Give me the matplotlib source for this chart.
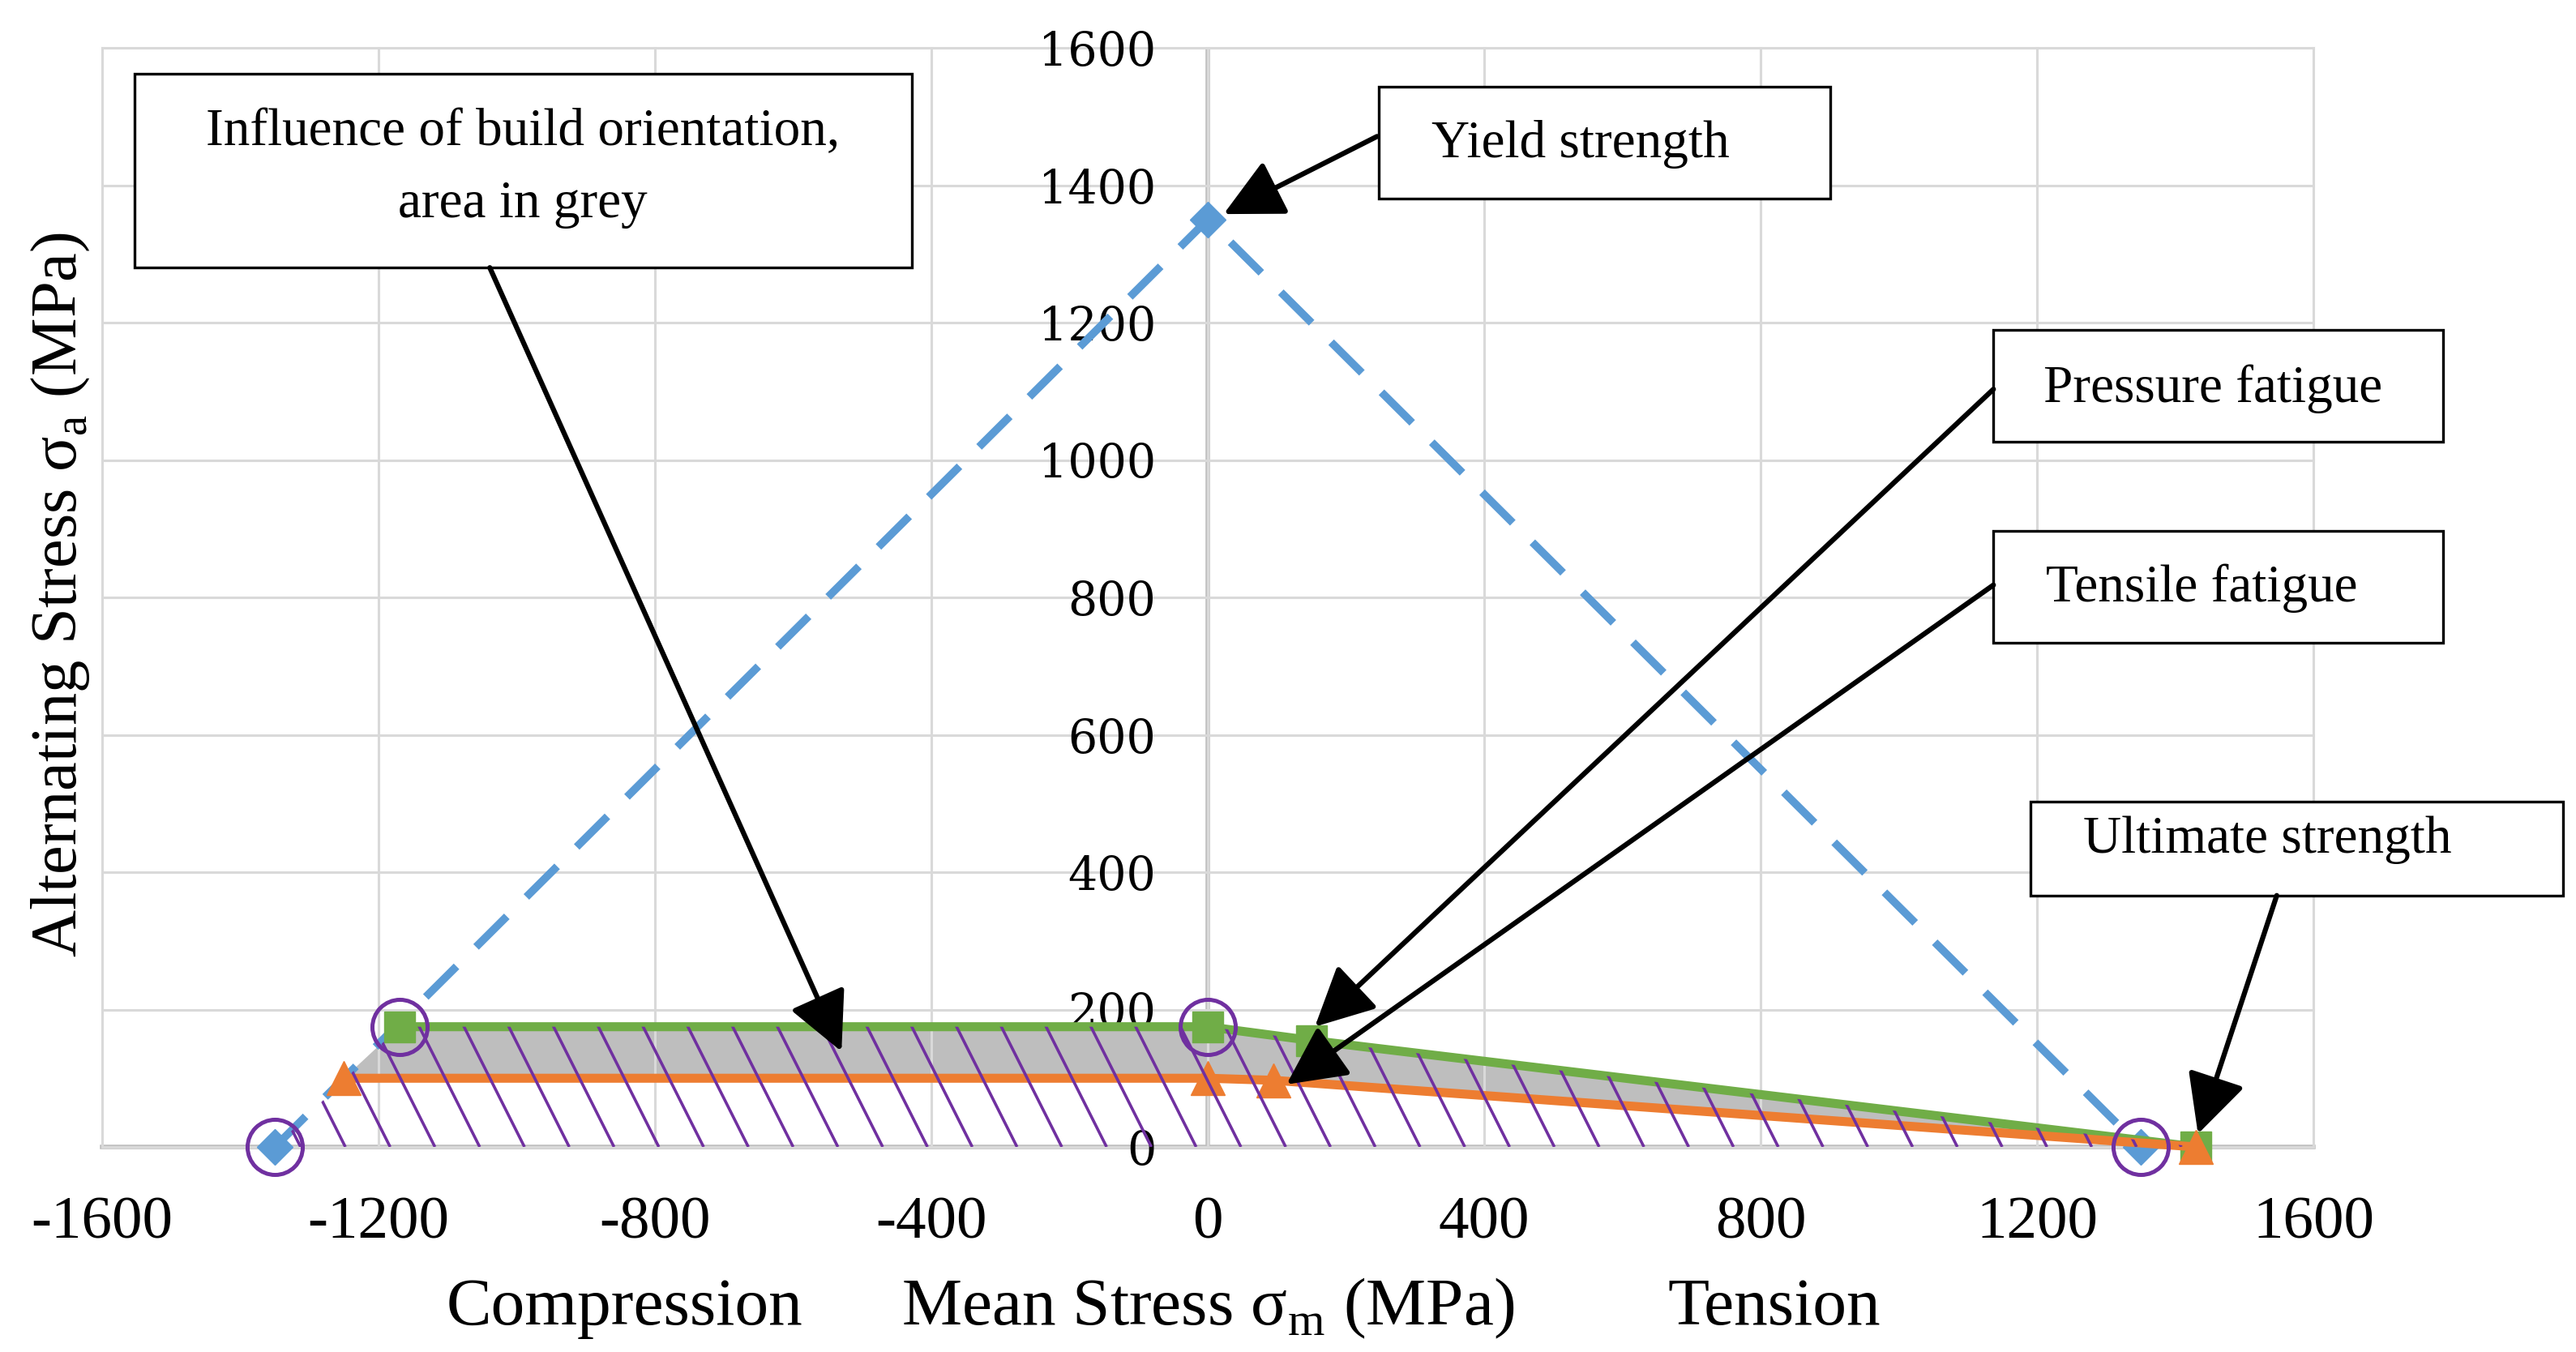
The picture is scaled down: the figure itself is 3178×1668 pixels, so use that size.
import numpy as np
import matplotlib
matplotlib.use('Agg')
import matplotlib.pyplot as plt
from matplotlib.patches import Polygon, Rectangle

# 数据
yield_x = [-1350, 0, 1350]          # 屈服强度线
yield_y = [0, 1350, 0]
pressure_x = [-1170, 0, 150, 1430]  # 压缩疲劳（绿色）
pressure_y = [175, 175, 155, 0]
tensile_x = [-1250, 0, 95, 1430]    # 拉伸疲劳（橙色）
tensile_y = [100, 100, 97, 0]

x_ticks = [-1600, -1200, -800, -400, 0, 400, 800, 1200, 1600]
x_labels = ['-1600', '-1200', '-800', '-400', '0', '400', '800', '1200', '1600']
y_ticks = [0, 200, 400, 600, 800, 1000, 1200, 1400, 1600]
y_labels = ['0', '200', '400', '600', '800', '1000', '1200', '1400', '1600']

serif = ['Liberation Serif', 'DejaVu Serif']
plt.rcParams['font.family'] = serif

W, H = 3178, 1668
fig = plt.figure(figsize=(W / 100, H / 100), dpi=100)
ax = fig.add_axes([126 / W, 1 - 1415 / H, (2854 - 126) / W, (1415 - 59) / H])
ax.set_xlim(-1600, 1600)
ax.set_ylim(0, 1600)

# 坐标轴：y轴放在 x=0 处（先移动，再设置刻度字体）
for s in ax.spines.values():
    s.set_visible(False)
ax.spines['left'].set_position(('data', 0))

ax.set_xticks(x_ticks)
ax.set_xticklabels(x_labels)
ax.set_yticks(y_ticks)
ax.set_yticklabels(y_labels)
ax.tick_params(axis='x', length=0, pad=44, labelsize=54)
ax.tick_params(axis='y', length=0, pad=46, labelsize=41)
for lbl in ax.get_yticklabels():
    lbl.set_family(['DejaVu Serif'])

ax.grid(True, color='#D9D9D9', lw=2.2, zorder=0)
for ln in ax.get_xgridlines() + ax.get_ygridlines():
    ln.set_clip_on(False)
ax.axvline(0, color='#BFBFBF', lw=4, zorder=0.5)
ax.axhline(0, color='#BFBFBF', lw=4, zorder=0.5, clip_on=False)

# 灰色区域（两条疲劳线之间）
grey = list(zip(pressure_x, pressure_y)) + list(zip(tensile_x, tensile_y))[::-1]
ax.add_patch(Polygon(grey, closed=True, facecolor='#BEBEBE', edgecolor='none', zorder=1))

# 斜线阴影区域
hatch_poly = [(yield_x[0], yield_y[0])] + list(zip(pressure_x, pressure_y))
clip = Polygon(hatch_poly, closed=True, facecolor='none', edgecolor='none')
ax.add_patch(clip)
for c in np.arange(-1248 - 64.8 * 3, 1500, 64.8):
    ln, = ax.plot([c, c - 0.5 * 400], [0, 400], color='#7030A0', lw=2.6, zorder=4,
                  solid_capstyle='butt')
    ln.set_clip_path(clip)

# 曲线
ax.plot(yield_x, yield_y, color='#5B9BD5', lw=7, ls=(0, (5.5, 3.5)), marker='D',
        ms=22, zorder=2, clip_on=False)
ax.plot(pressure_x, pressure_y, color='#70AD47', lw=8, marker='s', ms=27, zorder=3,
        clip_on=False)
ax.plot(tensile_x, tensile_y, color='#ED7D31', lw=8, marker='^', ms=30, zorder=3.5,
        clip_on=False)

# 紫色圆圈
cx = [yield_x[0], pressure_x[0], pressure_x[1], yield_x[2]]
cy = [yield_y[0], pressure_y[0], pressure_y[1], yield_y[2]]
ax.plot(cx, cy, ls='none', marker='o', ms=49, mfc='none', mec='#7030A0', mew=3.6,
        zorder=5, clip_on=False)

# 标注框
boxes = [
    ((-1553, 1280), (-428, 1562), (-991, 1424), 'Influence of build orientation,\narea in grey'),
    ((247, 1380), (901, 1543), (540, 1460), 'Yield strength'),
    ((1137, 1027), (1788, 1189), (1455, 1104), 'Pressure fatigue'),
    ((1137, 734), (1788, 897), (1438, 813), 'Tensile fatigue'),
    ((1191, 366), (1961, 503), (1533, 447), 'Ultimate strength'),
]
for (x0, y0), (x1, y1), (tx, ty), txt in boxes:
    ax.add_patch(Rectangle((x0, y0), x1 - x0, y1 - y0, facecolor='white',
                           edgecolor='black', lw=2.4, zorder=6, clip_on=False))
    ax.text(tx, ty, txt, fontsize=47, ha='center', va='center', zorder=7,
            linespacing=1.65, clip_on=False)

arrows = [
    ((-1039, 1280), (-530, 139)),
    ((245, 1471), (23, 1358)),
    ((1137, 1103), (155, 175)),
    ((1137, 818), (114, 91)),
    ((1547, 366), (1433, 19)),
]
for start, tip in arrows:
    ax.annotate('', xy=tip, xytext=start, annotation_clip=False, zorder=8,
                arrowprops=dict(arrowstyle='-|>,head_length=3.0,head_width=1.5',
                                mutation_scale=15, color='black', lw=4.5,
                                shrinkA=0, shrinkB=0))

# 轴标题
fig.text(771 / W, 1 - 1634 / H, 'Compression', fontsize=60, ha='center', va='baseline')
fig.text(1490 / W, 1 - 1634 / H, r'Mean Stress σ$_\mathregular{m}$ (MPa)', fontsize=60,
         ha='center', va='baseline')
fig.text(2189 / W, 1 - 1634 / H, 'Tension', fontsize=60, ha='center', va='baseline')
fig.text(75 / W, 1 - 734 / H, r'Alternating Stress σ$_\mathregular{a}$ (MPa)', fontsize=58,
         ha='center', va='center', rotation=90)

fig.savefig('out.png', dpi=100, facecolor='white')
